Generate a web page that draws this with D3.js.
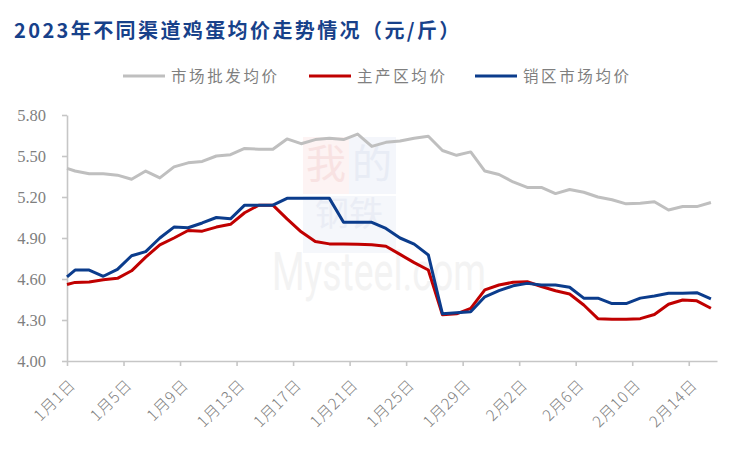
<!DOCTYPE html>
<html>
<head>
<meta charset="utf-8">
<script src="https://cdn.jsdelivr.net/npm/d3@7"></script>
<style>
  html, body { margin: 0; padding: 0; background: #fff; }
  svg { display: block; }
</style>
</head>
<body>
<svg id="chart" width="750" height="450"></svg>
<script>
// ---------------- data ----------------
const title = "2023年不同渠道鸡蛋均价走势情况（元/斤）";
const seriesNames = ["市场批发均价", "主产区均价", "销区市场均价"];

// one value per day, 1月1日 … 2月16日
const wholesale = [5.41, 5.39, 5.37, 5.37, 5.36, 5.33, 5.39, 5.34, 5.42, 5.45,
  5.46, 5.50, 5.51, 5.555, 5.55, 5.55, 5.625, 5.59, 5.62, 5.63,
  5.62, 5.66, 5.57, 5.60, 5.61, 5.63, 5.645, 5.54, 5.505, 5.53,
  5.39, 5.365, 5.31, 5.27, 5.27, 5.225, 5.255, 5.235, 5.20, 5.18,
  5.15, 5.155, 5.165, 5.105, 5.13, 5.13, 5.16];
const producing = [4.56, 4.575, 4.578, 4.595, 4.605, 4.66, 4.76, 4.85, 4.90, 4.955,
  4.95, 4.98, 5.00, 5.085, 5.14, 5.14, 5.04, 4.945, 4.875, 4.857,
  4.857, 4.855, 4.85, 4.84, 4.78, 4.72, 4.666, 4.338, 4.345, 4.385,
  4.52, 4.556, 4.576, 4.58, 4.545, 4.514, 4.49, 4.41, 4.31, 4.305,
  4.305, 4.31, 4.34, 4.415, 4.446, 4.44, 4.386];
const selling = [4.615, 4.665, 4.665, 4.62, 4.67, 4.77, 4.80, 4.90, 4.98, 4.975,
  5.01, 5.05, 5.04, 5.14, 5.14, 5.14, 5.19, 5.19, 5.19, 5.19,
  5.015, 5.015, 5.015, 4.97, 4.90, 4.855, 4.776, 4.345, 4.353, 4.36,
  4.47, 4.515, 4.55, 4.568, 4.556, 4.556, 4.54, 4.46, 4.46, 4.42,
  4.42, 4.46, 4.476, 4.495, 4.495, 4.50, 4.455];

const tickDays = [0, 4, 8, 12, 16, 20, 24, 28, 32, 36, 40, 44];
const tickLabels = ["1月1日", "1月5日", "1月9日", "1月13日", "1月17日", "1月21日",
  "1月25日", "1月29日", "2月2日", "2月6日", "2月10日", "2月14日"];
const yTicks = [4.00, 4.30, 4.60, 4.90, 5.20, 5.50, 5.80];
const colors = ["#bfbfbf", "#c00000", "#0b3c8c"];

// ---------------- layout ----------------
const svg = d3.select("#chart");
const plot = { left: 67, right: 717, top: 115, bottom: 361 };
const POINT_SHIFT = 0.43;

const x = d3.scaleLinear().domain([0, 46]).range([plot.left, plot.right]).clamp(true);
const y = d3.scaleLinear().domain([4.0, 5.8]).range([plot.bottom, plot.top]);

// ---------------- watermark ----------------
const wm = svg.append("g").attr("class", "watermark");
wm.append("rect").attr("x", 303).attr("y", 137).attr("width", 46).attr("height", 57).attr("fill", "#fdf3f3");
wm.append("rect").attr("x", 349).attr("y", 137).attr("width", 47).attr("height", 57).attr("fill", "#f4f6fb");
wm.append("rect").attr("x", 303).attr("y", 196).attr("width", 93).attr("height", 57).attr("fill", "#f5f7fb");
wm.append("text").attr("x", 326).attr("y", 178).attr("text-anchor", "middle")
  .attr("font-family", "Noto Sans CJK SC").attr("font-size", 40).attr("fill", "#f8e2e2").text("我");
wm.append("text").attr("x", 372).attr("y", 178).attr("text-anchor", "middle")
  .attr("font-family", "Noto Sans CJK SC").attr("font-size", 40).attr("fill", "#e8ecf5").text("的");
wm.append("text").attr("x", 349).attr("y", 226).attr("text-anchor", "middle")
  .attr("font-family", "Noto Sans CJK SC").attr("font-size", 34).attr("fill", "#eaedf5").text("钢铁");
wm.append("text").attr("x", 272).attr("y", 290)
  .attr("font-family", "Roboto, sans-serif").attr("font-size", 54)
  .attr("textLength", 214).attr("lengthAdjust", "spacingAndGlyphs")
  .attr("fill", "#f3f3f3").text("Mysteel.com");

// ---------------- title ----------------
svg.append("text").attr("x", 14).attr("y", 38)
  .attr("font-family", "Noto Sans CJK SC").attr("font-weight", "bold")
  .attr("font-size", 20).attr("letter-spacing", "2.4px")
  .attr("fill", "#17418a").text(title);

// ---------------- legend ----------------
const legendX = [123, 309, 475];
const leg = svg.append("g");
seriesNames.forEach((name, i) => {
  leg.append("line").attr("x1", legendX[i]).attr("x2", legendX[i] + 42)
    .attr("y1", 76).attr("y2", 76).attr("stroke", colors[i]).attr("stroke-width", 3);
  leg.append("text").attr("x", legendX[i] + 48).attr("y", 82)
    .attr("font-family", "Noto Sans CJK SC").attr("font-size", 15.5)
    .attr("letter-spacing", "2.6px").attr("fill", "#7f7f7f").text(name);
});

// ---------------- axes ----------------
const yAxis = d3.axisLeft(y).tickValues(yTicks).tickFormat(d3.format(".2f"))
  .tickSize(5).tickSizeOuter(0).tickPadding(16);
const gy = svg.append("g").attr("transform", `translate(${plot.left},0)`).call(yAxis);
gy.selectAll("path.domain, .tick line").attr("stroke", "#c6c6c6").attr("stroke-width", 1.6);
gy.selectAll("text").attr("font-family", "'Liberation Serif', serif")
  .attr("font-size", 16.5).attr("fill", "#7f7f7f");

const xAxis = d3.axisBottom(x).tickValues(tickDays)
  .tickFormat((d, i) => tickLabels[i]).tickSize(5).tickSizeOuter(0);
const gx = svg.append("g").attr("transform", `translate(0,${plot.bottom})`).call(xAxis);
gx.selectAll("path.domain, .tick line").attr("stroke", "#c6c6c6").attr("stroke-width", 1.6);
gx.selectAll("text")
  .attr("x", 0).attr("y", 0).attr("dy", 0)
  .attr("text-anchor", "end")
  .attr("transform", "translate(9,25) rotate(-45)")
  .attr("font-family", "'Noto Sans CJK SC', sans-serif")
  .attr("font-weight", 300)
  .attr("letter-spacing", "0.8px")
  .attr("font-size", 15.5).attr("fill", "#7f7f7f");

// ---------------- lines ----------------
const line = d3.line()
  .x((d, i) => x(i - POINT_SHIFT))
  .y(d => y(d))
  .curve(d3.curveLinear);

[wholesale, producing, selling].forEach((vals, i) => {
  svg.append("path").datum(vals)
    .attr("fill", "none")
    .attr("stroke", colors[i])
    .attr("stroke-width", 3)
    .attr("stroke-linejoin", "round")
    .attr("d", line);
});
</script>
</body>
</html>
